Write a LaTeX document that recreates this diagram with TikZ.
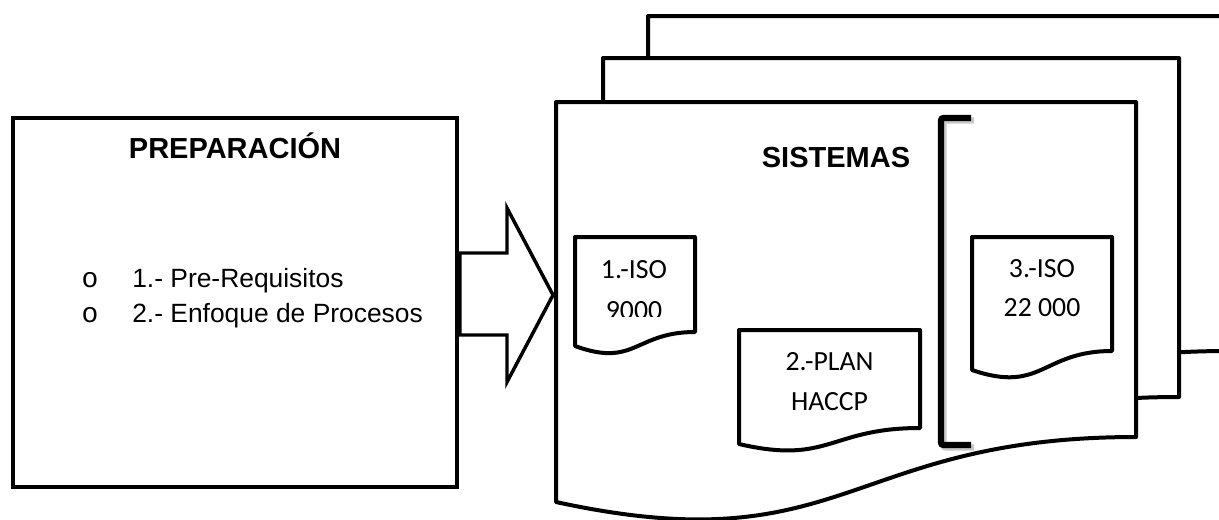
\documentclass[tikz,border=0pt]{standalone}
\usepackage{fontspec}
\setmainfont{Liberation Sans}
\newfontfamily\calfont{Carlito}
\newfontfamily\bulletfont{Liberation Mono}
\begin{document}
\begin{tikzpicture}[x=0.75pt,y=-0.75pt,
  page/.style={draw=black, fill=white, line width=3pt, line join=round},
  docbox/.style={draw=black, fill=white, line width=3pt, line join=round},
  prepbox/.style={draw=black, line width=3pt, minimum width=333pt, minimum height=276.75pt, inner sep=0pt},
  blockarrow/.style={draw=black, fill=white, line width=2.6pt, line join=miter},
  bracketline/.style={line width=4.8pt, rounded corners=2pt},
  title/.style={font={\fontsize{21.75}{26}\selectfont\bfseries}, anchor=base, inner sep=0pt},
  item/.style={font={\fontsize{19.8}{24}\selectfont}, anchor=base west, inner sep=0pt},
  bul/.style={font={\bulletfont\fontsize{21}{24}\selectfont}, anchor=base, inner sep=0pt},
  doctext/.style={font={\calfont\fontsize{20.8}{24}\selectfont}, anchor=base, inner sep=0pt}
]
\useasboundingbox (0,0) rectangle (1219,519);
\clip (0,0) rectangle (1219,519);

% stacked pages
\draw[page] (648,16) -- (1228,16) -- (1228,351) .. controls (938,351) and (938,479) .. (648,416) -- cycle;
\draw[page] (603,58) -- (1179,58) -- (1179,397) .. controls (891,397) and (891,521) .. (603,458) -- cycle;
\draw[page] (556,102) -- (1136,102) -- (1136,437) .. controls (846,437) and (846,565) .. (556,502) -- cycle;

% left box
\node[prepbox] (prep) at (235,302.5) {};
\node[title] (preptitle) at (235,158) {PREPARACIÓN};
\node[bul] (b1) at (90,287) {o};
\node[item] (i1) at (132,287) {1.- Pre-Requisitos};
\node[bul] (b2) at (90,322) {o};
\node[item] (i2) at (132,322) {2.- Enfoque de Procesos};

% block arrow
\draw[blockarrow] (460,253) -- (507,253) -- (507,208) -- (553,295) -- (507,382) -- (507,335) -- (460,335) -- cycle;

% title of systems
\node[title] (sist) at (836,167) {SISTEMAS};

% bracket with shadow
\draw[bracketline, black!30, opacity=0.7] (974,120.5) -- (943.5,120.5) -- (943.5,447.5) -- (974,447.5);
\draw[bracketline] (971,118) -- (941,118) -- (941,445) -- (971,445);

% document 1
\draw[docbox] (575,237) -- (695,237) -- (695,332) .. controls (635,332) and (635,368) .. (575,346) -- cycle;
\node[doctext] (d1a) at (634,278) {1.-ISO};
\begin{scope}
\clip (575,240) rectangle (695,316.5);
\node[doctext] (d1b) at (634,319.5) {9000};
\end{scope}

% document 2
\draw[docbox] (739,330) -- (920,330) -- (920,428) .. controls (829.5,428) and (829.5,465) .. (739,444) -- cycle;
\node[doctext] (d2a) at (829.5,370) {2.-PLAN};
\node[doctext] (d2b) at (829.5,410) {HACCP};

% document 3
\draw[docbox] (972,237) -- (1112,237) -- (1112,351) .. controls (1042,351) and (1042,394) .. (972,370) -- cycle;
\node[doctext] (d3a) at (1042,277) {3.-ISO};
\node[doctext] (d3b) at (1042,316) {22 000};
\end{tikzpicture}
\end{document}
